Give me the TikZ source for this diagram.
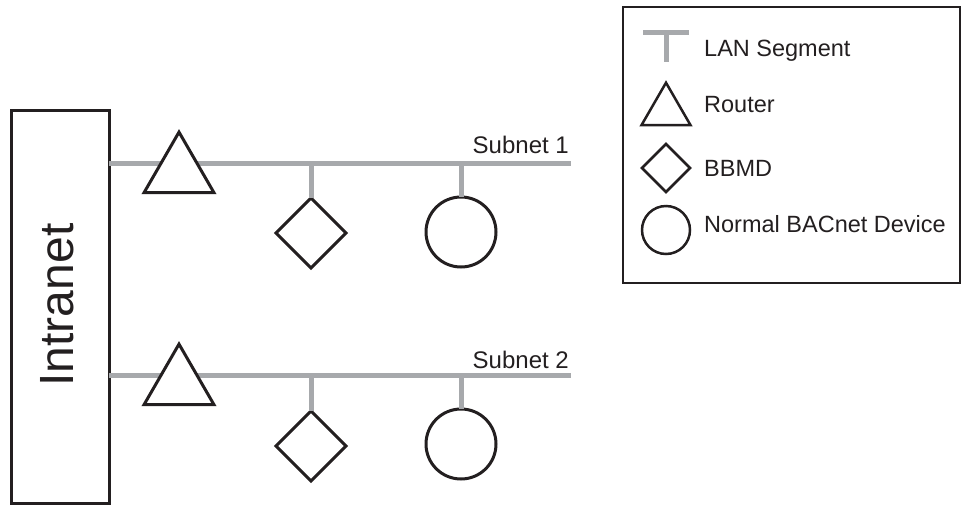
\documentclass[tikz,border=0pt]{standalone}
\usepackage{fontspec}
\setmainfont{Liberation Sans}
\usetikzlibrary{shapes.geometric}
\definecolor{langray}{HTML}{A7A9AC}
\definecolor{ink}{HTML}{231F20}
\begin{document}
\begin{tikzpicture}[x=1pt,y=-1pt,
  lan/.style={draw=langray,line width=5pt},
  box/.style={draw=ink,line width=3pt,fill=white},
  router/.style={draw=ink,line width=3pt,fill=white,regular polygon,regular polygon sides=3,inner sep=0pt,outer sep=0pt,minimum size=80.8pt},
  bbmd/.style={draw=ink,line width=3pt,fill=white,diamond,inner sep=0pt,outer sep=0pt,minimum width=70pt,minimum height=70pt},
  dev/.style={draw=ink,line width=3pt,fill=white,circle,inner sep=0pt,outer sep=0pt,minimum size=70pt},
  lrouter/.style={router,line width=2.5pt,minimum size=56.6pt},
  lbbmd/.style={bbmd,line width=2.5pt,minimum width=48pt,minimum height=48pt},
  ldev/.style={dev,line width=2.5pt,minimum size=48pt},
  txt/.style={font=\fontsize{23.5pt}{28pt}\selectfont,text=ink,inner sep=0pt},
  stxt/.style={font=\fontsize{24pt}{28pt}\selectfont,text=ink,inner sep=0pt}
]
\useasboundingbox (0,0) rectangle (963,504);

% Intranet box
\node[box,minimum width=98pt,minimum height=393pt,inner sep=0pt,outer sep=0pt] (intra) at (60,306.5) {};
\node[rotate=90,anchor=base,inner sep=0pt,font=\fontsize{48pt}{56pt}\selectfont,text=ink] (intratxt) at (73,305) {Intranet};

% Subnet end points
\coordinate (s1end) at (571,163);
\coordinate (s2end) at (571,375);

% LAN lines
\draw[lan] (intra.east |- s1end) -- (s1end);
\draw[lan] (intra.east |- s2end) -- (s2end);

% devices subnet 1
\node[router] (r1) at (179,172.5) {};
\node[bbmd] (b1) at (311,233) {};
\node[dev] (d1) at (461,232) {};
\draw[lan] (b1.north |- s1end) -- (b1.north);
\draw[lan] (d1.north |- s1end) -- (d1.north);

% devices subnet 2
\node[router] (r2) at (179,384.5) {};
\node[bbmd] (b2) at (311,446) {};
\node[dev] (d2) at (461,444) {};
\draw[lan] (b2.north |- s2end) -- (b2.north);
\draw[lan] (d2.north |- s2end) -- (d2.north);

% Subnet labels
\node[stxt,anchor=base east] (s1lab) at (569,153) {Subnet 1};
\node[stxt,anchor=base east] (s2lab) at (569,368) {Subnet 2};

% Legend
\node[draw=ink,line width=2.5pt,minimum width=337pt,minimum height=276pt,inner sep=0pt,outer sep=0pt] (legend) at (791.5,145) {};
\coordinate (tl) at (643,32);
\coordinate (tr) at (689,32);
\coordinate (tm) at (666,32);
\coordinate (tb) at (666,62);
\draw[lan] (tl) -- (tr);
\draw[lan] (tm) -- (tb);
\node[lrouter] (lr) at (666,111) {};
\node[lbbmd] (lb) at (666,168) {};
\node[ldev] (ld) at (666,230) {};
\node[txt,anchor=base west] (t1) at (704,56) {LAN Segment};
\node[txt,anchor=base west] (t2) at (704,112) {Router};
\node[txt,anchor=base west] (t3) at (704,176) {BBMD};
\node[txt,anchor=base west] (t4) at (704,232) {Normal BACnet Device};
\end{tikzpicture}
\end{document}
